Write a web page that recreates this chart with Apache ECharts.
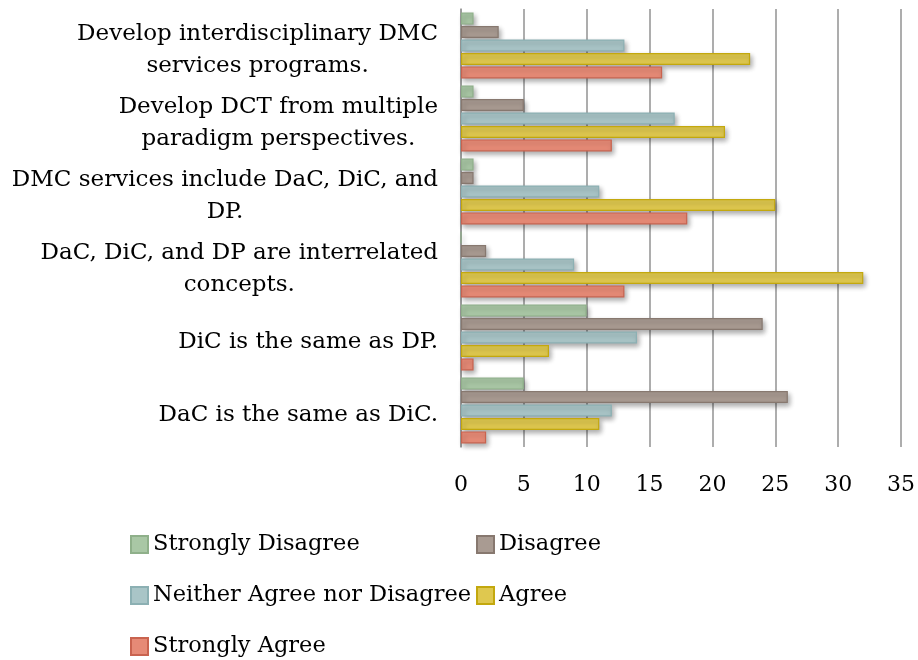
<!DOCTYPE html>
<html>
<head>
<meta charset="utf-8">
<script src="https://cdn.jsdelivr.net/npm/echarts@6/dist/echarts.min.js"></script>
<style>
  html, body { margin: 0; padding: 0; background: #ffffff; }
  #chart { width: 918px; height: 660px; }
</style>
</head>
<body>
<div id="chart"></div>
<script>
// Survey statements (top to bottom); "\n" marks where each label wraps
const categories = [
  'Develop interdisciplinary DMC\nservices programs.',
  'Develop DCT from multiple\nparadigm perspectives.',
  'DMC services include DaC, DiC, and\nDP.',
  'DaC, DiC, and DP are interrelated\nconcepts.',
  'DiC is the same as DP.',
  'DaC is the same as DiC.'
];

const seriesNames = [
  'Strongly Disagree',
  'Disagree',
  'Neither Agree nor Disagree',
  'Agree',
  'Strongly Agree'
];

// Response counts per statement, one array per response level
const stronglyDisagree = [1, 1, 1, 0, 10, 5];
const disagree         = [3, 5, 1, 2, 24, 26];
const neither          = [13, 17, 11, 9, 14, 12];
const agree            = [23, 21, 25, 32, 7, 11];
const stronglyAgree    = [16, 12, 18, 13, 1, 2];

const xTicks = [0, 5, 10, 15, 20, 25, 30, 35];

const seriesValues = [stronglyDisagree, disagree, neither, agree, stronglyAgree];
const fills   = ['#a9c7a5', '#a99b92', '#a9c5c7', '#dfc84f', '#e68a76'];
const borders = ['#8fb08a', '#87786f', '#8cb0b3', '#c3a80e', '#c9634f'];

const fontFamily = '"DejaVu Serif", "Liberation Serif", serif';

const chart = echarts.init(document.getElementById('chart'), null, { renderer: 'canvas' });

chart.setOption({
  backgroundColor: '#ffffff',
  animation: false,
  textStyle: { fontFamily: fontFamily },
  grid: { left: 461, right: 14.5, top: 9, bottom: 213, containLabel: false },
  xAxis: {
    type: 'value',
    min: xTicks[0],
    max: xTicks[xTicks.length - 1],
    interval: 5,
    axisLine: { show: false },
    axisTick: { show: false },
    axisLabel: {
      margin: 27,
      color: '#000000',
      fontSize: 22,
      fontFamily: fontFamily
    },
    splitLine: { show: true, lineStyle: { color: '#999999', width: 1.6 } }
  },
  yAxis: {
    type: 'category',
    inverse: true,
    data: categories,
    axisLine: { show: true, lineStyle: { color: '#999999', width: 1.6 } },
    axisTick: { show: false },
    axisLabel: {
      margin: 23,
      color: '#000000',
      fontSize: 23,
      fontFamily: fontFamily,
      lineHeight: 32,
      padding: [9, 0, 0, 0],
      formatter: function (v) {
        return v.split('\n').map(function (line) { return '{c|' + line + '}'; }).join('\n');
      },
      rich: {
        c: { align: 'center', fontSize: 23, lineHeight: 32, color: '#000000', fontFamily: fontFamily }
      }
    }
  },
  legend: {
    left: 130,
    top: 520,
    width: 760,
    padding: 0,
    orient: 'horizontal',
    itemWidth: 17,
    itemHeight: 17,
    itemGap: 2,
    icon: 'rect',
    textStyle: {
      fontSize: 22.5,
      color: '#000000',
      fontFamily: fontFamily,
      width: 321,
      overflow: 'none',
      lineHeight: 49
    },
    data: seriesNames
  },
  series: seriesNames.map(function (name, i) {
    return {
      name: name,
      type: 'bar',
      data: seriesValues[i],
      barWidth: 12,
      barGap: '12%',
      itemStyle: {
        color: fills[i],
        borderColor: borders[i],
        borderWidth: 1.2,
        shadowColor: 'rgba(0,0,0,0.32)',
        shadowBlur: 5,
        shadowOffsetX: 2,
        shadowOffsetY: 3
      }
    };
  })
});
</script>
</body>
</html>
